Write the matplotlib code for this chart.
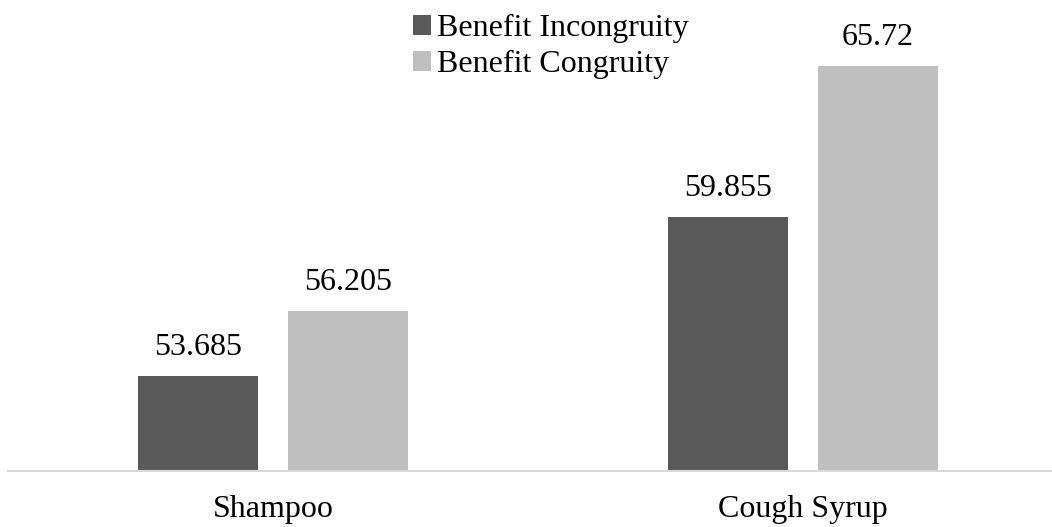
import numpy as np
import matplotlib.pyplot as plt

plt.rcParams['font.family'] = ['Liberation Serif', 'DejaVu Serif']

categories = ['Shampoo', 'Cough Syrup']
incongruity = [53.685, 59.855]
congruity = [56.205, 65.72]
series_names = ['Benefit Incongruity', 'Benefit Congruity']
colors = ['#595959', '#BFBFBF']

fig = plt.figure(figsize=(10.52, 5.27), dpi=100)
# axes run slightly past the right edge so the category bands are 530 px wide
ax = fig.add_axes([8 / 1052, 1 - 471 / 527, 1060 / 1052, 463.5 / 527])

x = np.arange(len(categories))
width = 0.225
offset = 0.1415

bars1 = ax.bar(x - offset, incongruity, width, color=colors[0], label=series_names[0])
bars2 = ax.bar(x + offset, congruity, width, color=colors[1], label=series_names[1])

for bars, vals in [(bars1, incongruity), (bars2, congruity)]:
    for b, v in zip(bars, vals):
        ax.annotate(f'{v:g}', (b.get_x() + b.get_width() / 2, v),
                    xytext=(0, 10), textcoords='offset points',
                    ha='center', va='bottom', fontsize=23)

ax.set_xlim(-0.5, 1.5)
ax.set_ylim(50, 68)
ax.set_xticks(x)
ax.set_xticklabels(categories, fontsize=23)
ax.tick_params(axis='x', length=0, pad=17)
ax.set_yticks([])
for s in ['top', 'right', 'left']:
    ax.spines[s].set_visible(False)
ax.spines['bottom'].set_color('#D9D9D9')
ax.spines['bottom'].set_linewidth(1.5)

fig.legend(loc='upper left', bbox_to_anchor=(413 / 1052, 1 - 14 / 527),
           frameon=False, fontsize=23, handlelength=0.55, handleheight=0.6,
           handletextpad=0.2, labelspacing=0.22, borderpad=0, borderaxespad=0)

fig.savefig('out.png', dpi=100)
